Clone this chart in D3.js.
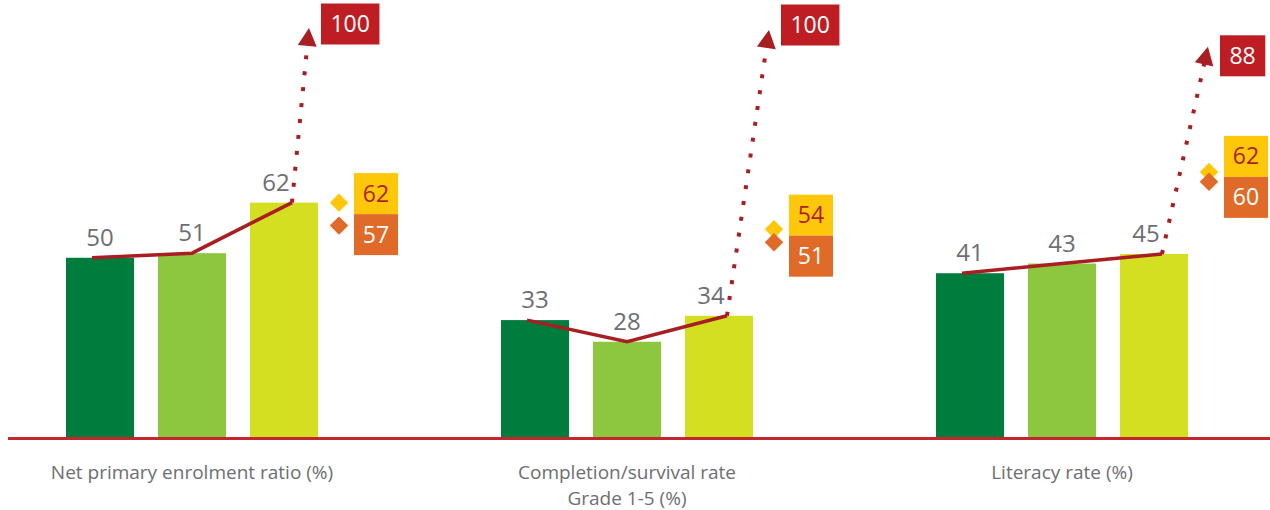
<!DOCTYPE html>
<html>
<head>
<meta charset="utf-8">
<script src="https://cdn.jsdelivr.net/npm/d3@7"></script>
<style>
  body { margin: 0; background: #fff; }
  text { font-family: "Open Sans", sans-serif; }
</style>
</head>
<body>
<div id="chart"></div>
<script>
// data
var categories = ["Net primary enrolment ratio (%)", "Completion/survival rate|Grade 1-5 (%)", "Literacy rate (%)"];
var periods = ["Period 1", "Period 2", "Period 3"];
var period1 = [50, 33, 41];
var period2 = [51, 28, 43];
var period3 = [62, 34, 45];
var targets = [100, 100, 88];
var benchmarkA = [62, 54, 62]; // yellow diamonds
var benchmarkB = [57, 51, 60]; // orange diamonds

// chart dimensions
var width = 1270;
var height = 510;
var baseY = 437;

// every indicator gets its own vertical scale (floor value, pixel spot of 100)
var yFloor = [11, 6, 7];
var yTop = [28, 30, -11];
var arrowDx = [25, 50, 54]; // horizontal drift of the dotted arrow
var targetDy = [-4, -5, 9];  // nudge of the target box vs arrow tip

var barColors = ["#007d3c", "#8dc63f", "#d4df21"];
var darkRed = "#a91e23";
var grey = "#6d6e71";

var values = [period1, period2, period3];

var svg = d3.select('#chart')
  .append('svg')
  .attr('width', width)
  .attr('height', height);

var x0 = d3.scalePoint()
  .domain(categories)
  .range([192, 1062]);

var x1 = d3.scaleBand()
  .domain(periods)
  .range([-126, 126])
  .paddingInner(0.26);

var bw = x1.bandwidth();

var yScales = categories.map(function(c, i) {
  return d3.scaleLinear().domain([yFloor[i], 100]).range([baseY, yTop[i]]);
});

// baseline
svg.append('line')
  .attr('x1', 8).attr('x2', width)
  .attr('y1', baseY + 1.5).attr('y2', baseY + 1.5)
  .attr('stroke', '#c1272d')
  .attr('stroke-width', 3);

categories.forEach(function(cat, i) {
  var y = yScales[i];
  var g = svg.append('g')
    .attr('transform', 'translate(' + x0(cat) + ',0)');

  var rows = periods.map(function(p, j) { return {period: p, value: values[j][i], j: j}; });

  // bars
  g.selectAll('rect.bar')
    .data(rows)
    .enter()
    .append('rect')
    .attr('class', 'bar')
    .attr('x', function(d) { return x1(d.period); })
    .attr('y', function(d) { return y(d.value); })
    .attr('width', bw)
    .attr('height', function(d) { return baseY - y(d.value); })
    .attr('fill', function(d) { return barColors[d.j]; });

  // value labels
  g.selectAll('text.val')
    .data(rows)
    .enter()
    .append('text')
    .attr('class', 'val')
    .attr('x', function(d) { return x1(d.period) + bw / 2 + (d.j === 2 ? -8 : 0); })
    .attr('y', function(d) { return y(d.value) - 12; })
    .attr('text-anchor', 'middle')
    .attr('fill', grey)
    .style('font-size', '24px')
    .text(function(d) { return d.value; });

  // trend line across bar tops
  var shift = [-8, 0, 8];
  var line = d3.line()
    .x(function(d) { return x1(d.period) + bw / 2 + shift[d.j]; })
    .y(function(d) { return y(d.value); });

  g.append('path')
    .datum(rows)
    .attr('d', line)
    .attr('fill', 'none')
    .attr('stroke', darkRed)
    .attr('stroke-width', 3.5);

  // dotted arrow towards the target
  var last = rows[2];
  var start = [x1(last.period) + bw / 2 + 8, y(last.value)];
  var tip = [x1(last.period) + bw / 2 + arrowDx[i], y(targets[i])];
  var ang = Math.atan2(tip[1] - start[1], tip[0] - start[0]);
  var len = Math.hypot(tip[0] - start[0], tip[1] - start[1]);
  var endP = [start[0] + Math.cos(ang) * (len - 16), start[1] + Math.sin(ang) * (len - 16)];

  g.append('path')
    .attr('d', d3.line()([start, endP]))
    .attr('stroke', darkRed)
    .attr('stroke-width', 4)
    .attr('stroke-dasharray', '4 12')
    .attr('fill', 'none');

  g.append('path')
    .attr('d', 'M0,0L-18,-9.5L-18,9.5Z')
    .attr('transform', 'translate(' + tip[0] + ',' + tip[1] + ') rotate(' + (ang * 180 / Math.PI) + ')')
    .attr('fill', darkRed);

  // target box
  var tg = g.append('g')
    .attr('transform', 'translate(' + (tip[0] + 12) + ',' + (tip[1] + targetDy[i]) + ')');
  var trect = tg.append('rect').attr('fill', '#be1e23');
  var ttext = tg.append('text')
    .attr('fill', '#fff')
    .attr('text-anchor', 'middle')
    .style('font-size', '23px')
    .attr('y', 8)
    .text(targets[i]);
  var tw = ttext.node().getComputedTextLength() + 19;
  trect.attr('x', 0).attr('y', -20.5).attr('width', tw).attr('height', 41);
  ttext.attr('x', tw / 2);

  // benchmark diamonds + boxes
  var dx = x1(last.period) + bw + 21;
  var yA = y(benchmarkA[i]);
  var yB = y(benchmarkB[i]);
  var boxH = 41;
  var cA = yA, cB = yB;
  if (yB - yA < boxH) {
    var mid = (yA + yB) / 2;
    cA = mid - boxH / 2;
    cB = mid + boxH / 2;
  }
  var bench = [
    {v: benchmarkA[i], y: yA, c: cA, fill: '#ffc709', txt: '#b01f24'},
    {v: benchmarkB[i], y: yB, c: cB, fill: '#e06a27', txt: '#fff'}
  ];
  var diamond = d3.symbol().type(d3.symbolSquare).size(170);

  bench.forEach(function(b) {
    g.append('path')
      .attr('d', diamond)
      .attr('transform', 'translate(' + dx + ',' + b.y + ') rotate(45)')
      .attr('fill', b.fill);
  });
  bench.forEach(function(b) {
    g.append('rect')
      .attr('x', dx + 15)
      .attr('y', b.c - boxH / 2)
      .attr('width', 44)
      .attr('height', boxH)
      .attr('fill', b.fill);
    g.append('text')
      .attr('x', dx + 15 + 22)
      .attr('y', b.c + 8)
      .attr('text-anchor', 'middle')
      .attr('fill', b.txt)
      .style('font-size', '23px')
      .text(b.v);
  });

  // category label
  var lab = g.append('text')
    .attr('text-anchor', 'middle')
    .attr('fill', grey)
    .style('font-size', '19px');
  cat.split('|').forEach(function(t, k) {
    lab.append('tspan')
      .attr('x', 0)
      .attr('y', 479 + k * 26)
      .text(t);
  });
});
</script>
</body>
</html>
